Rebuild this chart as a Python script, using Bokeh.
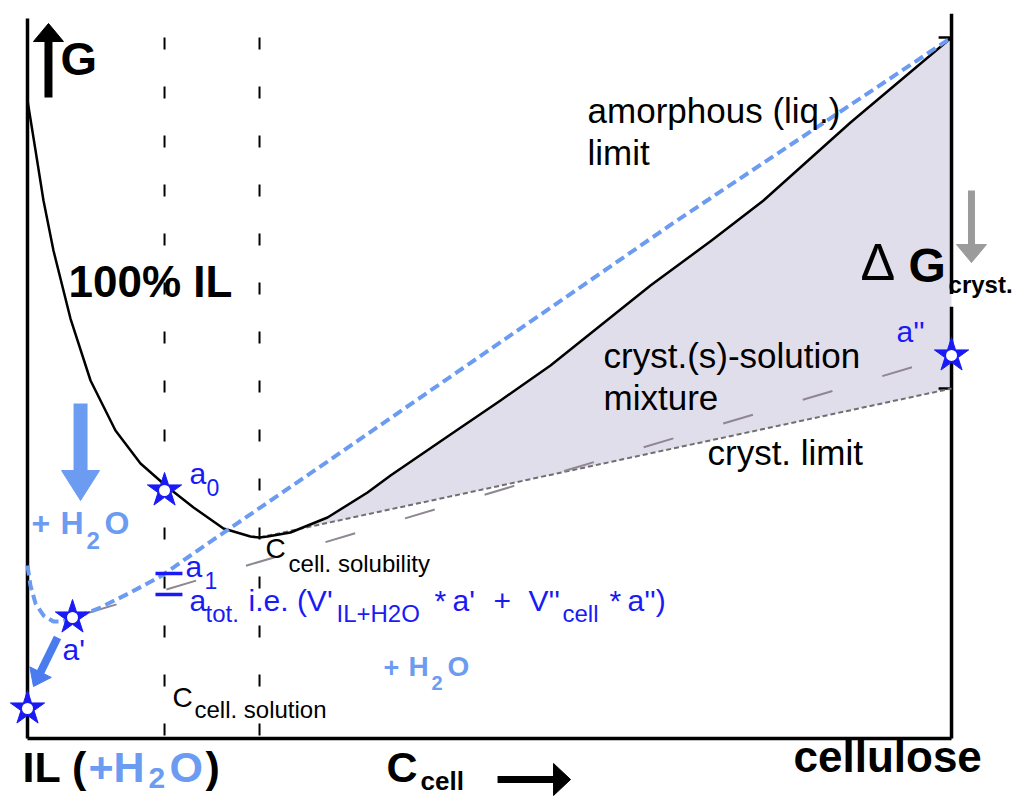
import math
from bokeh.plotting import figure
from bokeh.models import Range1d
from bokeh.core.properties import value
from bokeh.embed import file_html
from bokeh.resources import INLINE

# ---- data (C = cellulose content, 0..100 ; G = free energy, arbitrary 0..100) ----
c_il100 = [0.00, 0.87, 1.73, 2.81, 4.65, 6.82, 9.52, 12.23, 14.94, 17.97, 21.21, 24.13, 25.11,
           25.97, 28.46, 32.47, 36.80, 39.29, 45.78, 51.19, 56.60, 62.01, 67.42, 74.03, 79.65, 89.07, 100.0]
g_il100 = [91.01, 83.88, 76.75, 69.61, 59.91, 51.07, 43.94, 39.23, 36.09, 32.95, 29.96, 28.82, 28.67,
           28.82, 29.39, 31.53, 35.09, 37.52, 43.37, 48.22, 53.21, 58.92, 64.62, 71.04, 76.75, 87.87, 100.0]
c_wet = [0.0, 0.32, 0.87, 1.73, 2.81, 3.79, 5.19, 7.90, 11.15, 14.39, 18.72, 32.47, 70.13, 100.0]
g_wet = [24.68, 21.83, 19.26, 17.55, 16.69, 16.69, 17.26, 18.69, 20.83, 23.11, 27.10, 39.51, 73.75, 100.0]
cryst_c = [25.11, 100.0]
cryst_g = [28.67, 49.93]
mix_c = [4.87, 100.0]
mix_g = [17.26, 54.64]
star_c = [14.83, 4.87, 0.0, 100.0]
star_g = [35.38, 17.26, 4.28, 54.64]
c_solution = 14.83
c_solubility = 25.11
g_amorph_end = 100.0
bar_c = [13.85, 16.77]
bar_g = [23.54, 20.54]          # a1, a_tot

FONT = "Liberation Sans"
BLUE = "#1a1af5"
LBLUE = "#6c9bf2"
MBLUE = "#4a7cf0"

XR = (-2.922, 107.14)
YR = (-8.559, 105.28)
W, H = 1017, 798
SX = W / (XR[1] - XR[0])
SY = H / (YR[1] - YR[0])

p = figure(width=W, height=H, x_range=Range1d(*XR), y_range=Range1d(*YR),
           output_backend="svg", toolbar_location=None, min_border=0,
           x_axis_type=None, y_axis_type=None)
p.outline_line_color = None
p.background_fill_color = "white"
p.border_fill_color = "white"

# shaded crystal-solution region
i0 = c_il100.index(c_solubility)
sh_x = c_il100[i0:] + [cryst_c[1]]
sh_y = g_il100[i0:] + [cryst_g[1]]
p.patch(sh_x, sh_y, fill_color="#e1deec", line_color=None)

# vertical dashed guides
for cx in (c_solution, c_solubility):
    p.line([cx, cx], [g_amorph_end, 0], line_color="black", line_width=2, line_dash="12 37")

# axes box
p.line([0, 0], [0, 102.7], line_color="black", line_width=3.5)
p.line([0, 100], [0, 0], line_color="black", line_width=3.5)
p.line([100, 100], [0, 61.6], line_color="black", line_width=3.5)
p.line([100, 100], [63.4, 103.4], line_color="black", line_width=3.5)
p.segment([98.6, 98.6], [g_amorph_end, cryst_g[1]], [100, 100], [g_amorph_end, cryst_g[1]],
          line_color="black", line_width=2.5)

# lines
p.line(cryst_c, cryst_g, line_color="#6f6f6f", line_width=2, line_dash="5 3")
p.line(mix_c, mix_g, line_color="#8e8691", line_width=2, line_dash="31 52", line_dash_offset=68)
p.line(c_il100, g_il100, line_color="black", line_width=2.5, line_join="round")
p.line(c_wet, g_wet, line_color=LBLUE, line_width=4, line_dash="10 5")

# a1 / a_tot bars
p.segment([bar_c[0]] * 2, bar_g, [bar_c[1]] * 2, bar_g, line_color=BLUE, line_width=3.5)

# stars
p.scatter(star_c, star_g, marker="star", size=36, fill_color=BLUE, line_color=BLUE, line_width=1)
p.scatter(star_c, star_g, marker="circle", size=11, fill_color="white", line_color=None)


def arrow(x0, y0, x1, y1, shaft, hl, hw, color):
    dx = (x1 - x0) * SX
    dy = (y1 - y0) * SY
    L = math.hypot(dx, dy)
    ux, uy = dx / L, dy / L
    bx = x1 - ux * hl / SX
    by = y1 - uy * hl / SY
    p.segment([x0], [y0], [bx + ux * 1 / SX], [by + uy * 1 / SY], line_color=color,
              line_width=shaft, line_cap="butt")
    px_, py_ = -uy, ux
    lx = bx + px_ * hw / 2 / SX
    ly = by + py_ * hw / 2 / SY
    rx = bx - px_ * hw / 2 / SX
    ry = by - py_ * hw / 2 / SY
    p.patch([x1, lx, rx], [y1, ly, ry], fill_color=color, line_color=color, line_width=1)


arrow(2.27, 91.44, 2.27, 102.0, 8, 18, 30, "black")
arrow(5.74, 47.79, 5.74, 33.95, 14, 30, 38, LBLUE)
arrow(3.25, 14.41, 0.65, 7.42, 8, 16, 24, MBLUE)
arrow(102.16, 78.17, 102.16, 67.90, 7, 18, 30, "#9b9b9b")
arrow(50.87, -5.85, 58.77, -5.85, 7, 17, 32, "black")


def txt(x, y, s, size, color="black", bold=False):
    # y is the wanted baseline; the renderer centres the line box on y,
    # so lift the anchor by the measured baseline-to-centre distance
    y_anchor = y + 0.385 * size / SY
    p.text(x=[x], y=[y_anchor], text=[s], text_font=value(FONT), text_font_size=f"{size}px",
           text_font_style="bold" if bold else "normal", text_color=color,
           text_baseline="alphabetic", text_align="left")


txt(3.57, 94.44, "G", 47, bold=True)
txt(4.44, 62.77, "100% IL", 44, bold=True)
txt(60.61, 87.73, "amorphous (liq.)", 35)
txt(60.61, 81.74, "limit", 35)
txt(90.15, 65.05, "\u0394", 52)
txt(95.35, 64.91, "G", 48, bold=True)
txt(99.68, 63.48, "cryst.", 24, bold=True)
txt(94.05, 56.35, "a''", 30, color=BLUE)
txt(62.34, 52.78, "cryst.(s)-solution", 35)
txt(62.34, 46.79, "mixture", 35)
txt(73.59, 38.94, "cryst. limit", 35)
txt(17.53, 36.09, "a", 30, color=BLUE)
txt(19.37, 34.52, "0", 23, color=BLUE)
txt(25.76, 25.53, "C", 28)
txt(28.25, 23.68, "cell. solubility", 24)
txt(17.10, 22.82, "a", 30, color=BLUE)
txt(19.16, 21.26, "1", 23, color=BLUE)
txt(17.53, 17.97, "a", 30, color=BLUE)
txt(19.26, 16.55, "tot.", 24, color=BLUE)
txt(23.92, 17.97, "i.e. (V'", 30, color=BLUE)
txt(33.44, 16.55, "IL+H2O", 24, color=BLUE)
txt(44.05, 17.97, "*", 30, color=BLUE)
txt(45.99, 17.97, "a'", 30, color=BLUE)
txt(50.43, 17.97, "+", 30, color=BLUE)
txt(54.22, 17.97, "V''", 30, color=BLUE)
txt(57.90, 16.55, "cell", 24, color=BLUE)
txt(62.99, 17.97, "*", 30, color=BLUE)
txt(64.94, 17.97, "a'')", 30, color=BLUE)
txt(0.43, 28.96, "+", 32, color=LBLUE, bold=True)
txt(3.57, 28.96, "H", 32, color=LBLUE, bold=True)
txt(6.39, 26.96, "2", 24, color=LBLUE, bold=True)
txt(8.33, 28.96, "O", 32, color=LBLUE, bold=True)
txt(3.79, 10.98, "a'", 30, color=BLUE)
txt(38.53, 8.70, "+", 27, color=LBLUE, bold=True)
txt(41.23, 8.70, "H", 28, color=LBLUE, bold=True)
txt(43.72, 6.85, "2", 20, color=LBLUE, bold=True)
txt(45.45, 8.70, "O", 28, color=LBLUE, bold=True)
txt(15.69, 4.28, "C", 28)
txt(18.07, 2.85, "cell. solution", 24)
txt(-0.54, -6.42, "IL (", 43, bold=True)
txt(6.60, -6.42, "+H", 43, color=LBLUE, bold=True)
txt(13.10, -7.28, "2", 30, color=LBLUE, bold=True)
txt(15.37, -6.42, "O", 43, color=LBLUE, bold=True)
txt(19.26, -6.42, ")", 43, bold=True)
txt(38.85, -6.42, "C", 43, bold=True)
txt(42.53, -7.42, "cell", 26, bold=True)
txt(82.90, -4.99, "cellulose", 44, bold=True)

open("out.html", "w").write(file_html(p, INLINE))
